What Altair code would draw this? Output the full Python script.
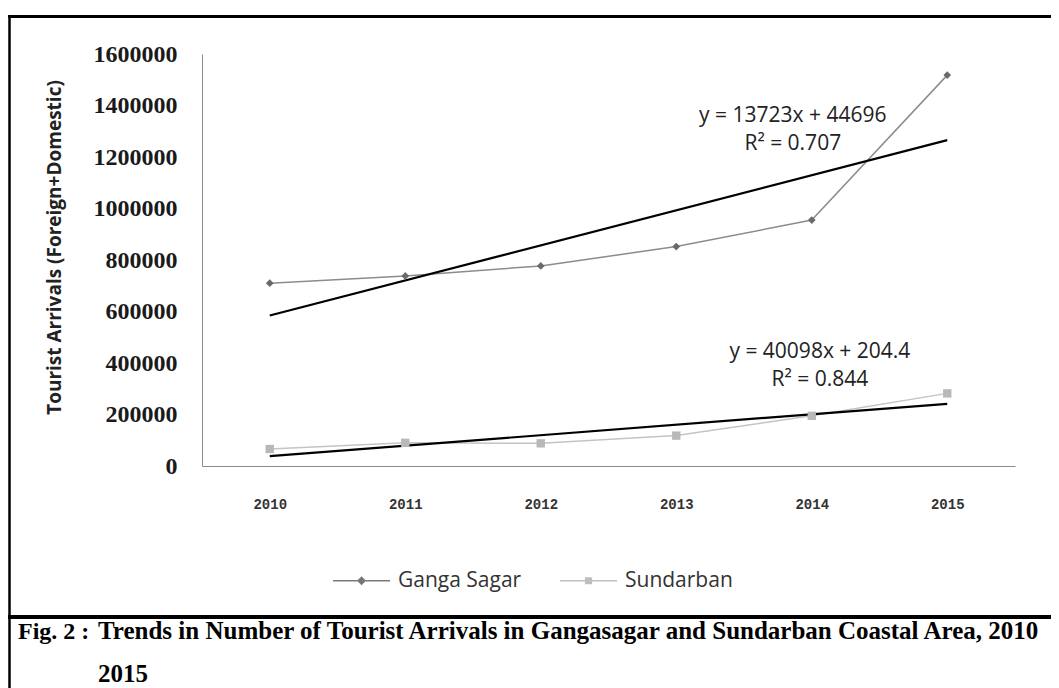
import altair as alt
import pandas as pd

# ---- data ----
years = [2010, 2011, 2012, 2013, 2014, 2015]
ganga_sagar = [710000, 738000, 777000, 852000, 955000, 1518000]
sundarban = [66000, 90000, 88000, 118000, 195000, 282000]
series_names = ["Ganga Sagar", "Sundarban"]
y_ticks = [0, 200000, 400000, 600000, 800000, 1000000, 1200000, 1400000, 1600000]

eq_text = ["y = 13723x + 44696", "R\u00b2 = 0.707", "y = 40098x + 204.4", "R\u00b2 = 0.844"]
eq_year = [2013.86, 2013.86, 2014.06, 2014.06]
eq_value = [1359000, 1250000, 443000, 334000]

caption_fig = "Fig. 2 :"
caption_line1 = "Trends in Number of Tourist Arrivals in Gangasagar and Sundarban Coastal Area, 2010"
caption_line2 = "2015"

df = pd.DataFrame({
    "year": years * 2,
    "value": ganga_sagar + sundarban,
    "series": [series_names[0]] * len(years) + [series_names[1]] * len(years),
})
eq_df = pd.DataFrame({"year": eq_year, "value": eq_value, "text": eq_text})
one = pd.DataFrame({"k": [0]})

x_enc = alt.X(
    "year:Q",
    scale=alt.Scale(domain=[2009.5, 2015.5], nice=False, zero=False),
    axis=alt.Axis(values=years, format="d", title=None, ticks=False, grid=False,
                  labelFont="Liberation Mono", labelFontWeight="bold", labelFontSize=14,
                  labelColor="#333333", labelPadding=31, domainColor="#8a8a8a"),
)
y_enc = alt.Y(
    "value:Q",
    scale=alt.Scale(domain=[0, 1600000], nice=False),
    axis=alt.Axis(values=y_ticks, format="d", title="Tourist Arrivals (Foreign+Domestic)",
                  ticks=False, grid=False, domainColor="#8a8a8a",
                  labelFont="Liberation Serif", labelFontWeight="bold", labelFontSize=24,
                  labelColor="#1a1a1a", labelPadding=25,
                  titleFont="Open Sans", titleFontSize=19, titleFontWeight="bold",
                  titleColor="#222222", titleX=-148, titleY=193, titleAngle=270,
                  titleAlign="center", titleBaseline="middle"),
)

base = alt.Chart(df).encode(x=x_enc, y=y_enc)

g = base.transform_filter(alt.datum.series == series_names[0])
s = base.transform_filter(alt.datum.series == series_names[1])

ganga_line = g.mark_line(color="#8c8c8c", strokeWidth=1.5)
ganga_pts = g.mark_point(shape="diamond", filled=True, color="#6a6a6a", size=60, opacity=1)
sund_line = s.mark_line(color="#c4c4c4", strokeWidth=1.5)
sund_pts = s.mark_point(shape="square", filled=True, color="#b8b8b8", size=70, opacity=1)

ganga_trend = g.transform_regression("year", "value").mark_line(color="black", strokeWidth=2.2)
sund_trend = s.transform_regression("year", "value").mark_line(color="black", strokeWidth=2.2)

diamond_path = "M-1,0H1M0,-0.12L0.12,0L0,0.12L-0.12,0Z"
square_path = "M-1,0H1M-0.1,-0.1H0.1V0.1H-0.1Z"

legend_layer = base.mark_point(opacity=0, filled=False, strokeWidth=1.5).encode(
    color=alt.Color("series:N", scale=alt.Scale(domain=series_names, range=["#7a7a7a", "#c0c0c0"]),
                    legend=alt.Legend(title=None, orient="none", legendX=130, legendY=497,
                                      direction="horizontal", columns=2, columnPadding=35,
                                      symbolSize=3249, symbolOpacity=1, symbolStrokeWidth=1.5,
                                      labelFont="Open Sans", labelFontSize=21, labelColor="#333333",
                                      labelOffset=7, labelLimit=300)),
    fill=alt.Fill("series:N", scale=alt.Scale(domain=series_names, range=["#6a6a6a", "#b8b8b8"])),
    shape=alt.Shape("series:N", scale=alt.Scale(domain=series_names, range=[diamond_path, square_path])),
)

eqs = alt.Chart(eq_df).mark_text(font="Open Sans", fontSize=21, color="#222222",
                                 align="center", baseline="middle").encode(
    x=alt.X("year:Q"), y=alt.Y("value:Q"), text="text:N")

frame = alt.Chart(one)
top_rule = frame.mark_rule(color="black", strokeWidth=3).encode(
    x=alt.value(-194), x2=alt.value(857), y=alt.value(-37.5))
left_rule = frame.mark_rule(color="black", strokeWidth=2.5).encode(
    x=alt.value(-192.5), y=alt.value(-39), y2=alt.value(640))
sep_rule = frame.mark_rule(color="black", strokeWidth=4).encode(
    x=alt.value(-194), x2=alt.value(857), y=alt.value(563))

cap_style = dict(font="Liberation Serif", fontWeight="bold", color="black",
                 align="left", baseline="alphabetic")
cap_fig = frame.mark_text(text=caption_fig, fontSize=24, **cap_style).encode(x=alt.value(-184), y=alt.value(585))
cap_l1 = frame.mark_text(text=caption_line1, fontSize=25, **cap_style).encode(x=alt.value(-104), y=alt.value(585))
cap_l2 = frame.mark_text(text=caption_line2, fontSize=25, **cap_style).encode(x=alt.value(-104), y=alt.value(628))

chart = alt.layer(
    ganga_line, sund_line, ganga_trend, sund_trend, ganga_pts, sund_pts, legend_layer, eqs,
    top_rule, left_rule, sep_rule, cap_fig, cap_l1, cap_l2,
).properties(
    width=813, height=412,
    autosize=alt.AutoSizeParams(type="none"),
    padding={"left": 194, "top": 46, "right": 36, "bottom": 222},
).configure_view(stroke=None)

chart.save("out.html", embed_options={"renderer": "svg", "actions": False})
